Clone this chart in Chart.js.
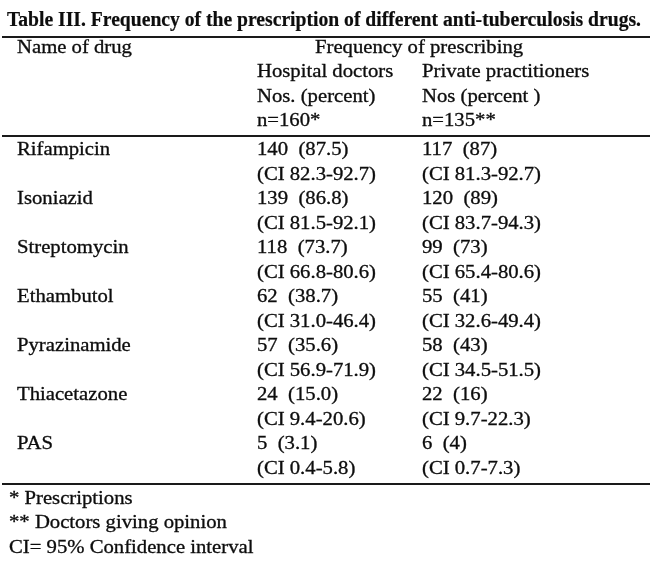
<!DOCTYPE html>
<html>
<head>
<meta charset="utf-8">
<script src="https://cdn.jsdelivr.net/npm/chart.js@4.4.1/dist/chart.umd.min.js"></script>
<style>
  html, body { margin: 0; padding: 0; background: #fff; }
  #wrap { width: 650px; height: 567px; }
</style>
</head>
<body>
<div id="wrap"><canvas id="c" width="650" height="567"></canvas></div>
<script>
// Table content
const title = "Table III. Frequency of the prescription of different anti-tuberculosis drugs.";
const headerRows = [
  ["Name of drug", "Frequency of prescribing", ""],
  ["", "Hospital doctors", "Private practitioners"],
  ["", "Nos. (percent)", "Nos (percent )"],
  ["", "n=160*", "n=135**"]
];
const drugs       = ["Rifampicin", "Isoniazid", "Streptomycin", "Ethambutol", "Pyrazinamide", "Thiacetazone", "PAS"];
const hospitalNos = [140, 139, 118, 62, 57, 24, 5];
const hospitalPct = ["87.5", "86.8", "73.7", "38.7", "35.6", "15.0", "3.1"];
const hospitalCI  = ["82.3-92.7", "81.5-92.1", "66.8-80.6", "31.0-46.4", "56.9-71.9", "9.4-20.6", "0.4-5.8"];
const privateNos  = [117, 120, 99, 55, 58, 22, 6];
const privatePct  = ["87", "89", "73", "41", "43", "16", "4"];
const privateCI   = ["81.3-92.7", "83.7-94.3", "65.4-80.6", "32.6-49.4", "34.5-51.5", "9.7-22.3", "0.7-7.3"];
const footnotes   = ["* Prescriptions", "** Doctors giving opinion", "CI= 95% Confidence interval"];

// layout (x in px-like units, y in text-line units)
const SERIF = '"Liberation Serif", "Times New Roman", serif';
const COL_X = [17, 257, 422];
const SPAN_X = 315;
const Y = { title: 1.06, head: 2.16, data: 6.33, foot: 20.57, rules: [1.5, 5.55, 19.76] };
const BODY_SX = 1.15;

function put(ctx, str, px, py, font, sx, weight) {
  ctx.save();
  ctx.font = font;
  ctx.translate(px, py);
  ctx.scale(sx, 1);
  ctx.fillText(str, 0, 0);
  // thin outline to mimic the heavier scanned print
  ctx.lineWidth = weight;
  ctx.strokeText(str, 0, 0);
  ctx.restore();
}

const tablePlugin = {
  id: "tableText",
  afterDraw(chart) {
    const ctx = chart.ctx, xs = chart.scales.x, ys = chart.scales.y;
    const body = "18px " + SERIF;
    ctx.fillStyle = "#0d0d0d";
    ctx.textBaseline = "alphabetic";
    ctx.textAlign = "left";

    // rules
    ctx.strokeStyle = "#1a1a1a";
    ctx.lineWidth = 2;
    Y.rules.forEach(r => {
      const py = Math.round(ys.getPixelForValue(r));
      ctx.beginPath();
      ctx.moveTo(xs.getPixelForValue(2), py);
      ctx.lineTo(xs.getPixelForValue(650), py);
      ctx.stroke();
    });

    ctx.strokeStyle = "#0d0d0d";

    // title, stretched to its printed width
    const tFont = "bold 20px " + SERIF;
    ctx.font = tFont;
    const tw = ctx.measureText(title).width;
    const tx0 = xs.getPixelForValue(7), tx1 = xs.getPixelForValue(641);
    put(ctx, title, tx0, ys.getPixelForValue(Y.title), tFont, (tx1 - tx0) / tw, 0.2);

    // header
    headerRows.forEach((row, i) => {
      const py = ys.getPixelForValue(Y.head + i);
      row.forEach((cell, c) => {
        if (!cell) return;
        const cx = (i === 0 && c === 1) ? SPAN_X : COL_X[c];
        put(ctx, cell, xs.getPixelForValue(cx), py, body, BODY_SX, 0.3);
      });
    });

    // body rows: two text lines per drug
    drugs.forEach((d, i) => {
      const y1 = ys.getPixelForValue(Y.data + i * 2);
      const y2 = ys.getPixelForValue(Y.data + i * 2 + 1);
      put(ctx, d, xs.getPixelForValue(COL_X[0]), y1, body, BODY_SX, 0.3);
      put(ctx, hospitalNos[i] + "  (" + hospitalPct[i] + ")", xs.getPixelForValue(COL_X[1]), y1, body, BODY_SX, 0.3);
      put(ctx, "(CI " + hospitalCI[i] + ")", xs.getPixelForValue(COL_X[1]), y2, body, BODY_SX, 0.3);
      put(ctx, privateNos[i] + "  (" + privatePct[i] + ")", xs.getPixelForValue(COL_X[2]), y1, body, BODY_SX, 0.3);
      put(ctx, "(CI " + privateCI[i] + ")", xs.getPixelForValue(COL_X[2]), y2, body, BODY_SX, 0.3);
    });

    // footnotes
    footnotes.forEach((f, i) => {
      put(ctx, f, xs.getPixelForValue(9), ys.getPixelForValue(Y.foot + i), body, BODY_SX, 0.3);
    });
  }
};

new Chart(document.getElementById("c").getContext("2d"), {
  type: "scatter",
  data: { datasets: [{ data: [], pointRadius: 0 }] },
  options: {
    responsive: false,
    animation: false,
    layout: { padding: 0 },
    plugins: { legend: { display: false }, tooltip: { enabled: false } },
    scales: {
      x: { type: "linear", min: 0, max: 650, display: false },
      y: { type: "linear", min: 0, max: 567 / 24.5, reverse: true, display: false }
    }
  },
  plugins: [tablePlugin]
});
</script>
</body>
</html>
